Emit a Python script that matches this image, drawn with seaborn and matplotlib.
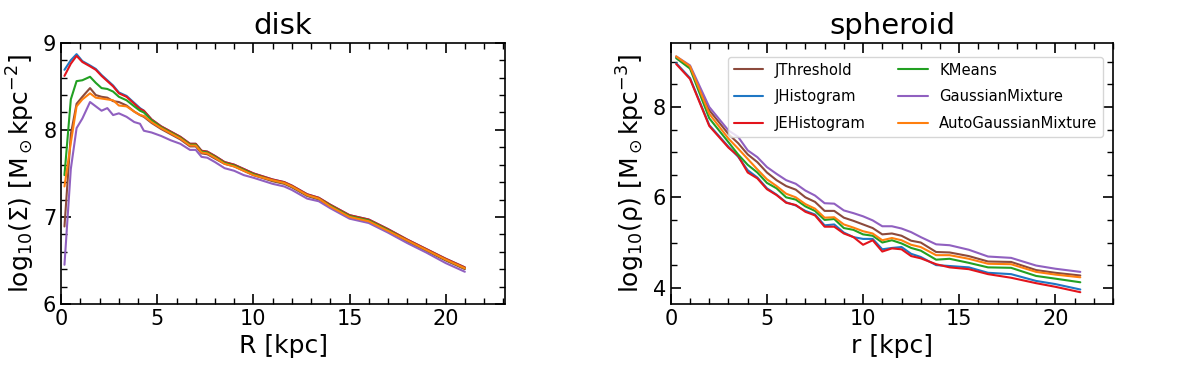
import numpy as np
import matplotlib
matplotlib.use("Agg")
import matplotlib.pyplot as plt
import pandas as pd
import seaborn as sns
from matplotlib.ticker import MultipleLocator

methods = ["JThreshold", "JHistogram", "JEHistogram", "KMeans", "GaussianMixture", "AutoGaussianMixture"]
colors = ["#8c4a3c", "#1f77c4", "#e3141c", "#22a022", "#9060c0", "#ff7f0e"]

# disk: surface density profile
R = [0.17, 0.5, 0.8, 1.1, 1.5, 1.8, 2.1, 2.4, 2.7, 3.0, 3.4, 3.8, 4.1, 4.3, 4.7, 5.2, 5.7, 6.2, 6.7, 7.0,
     7.3, 7.6, 8.0, 8.5, 9.0, 9.5, 10.0, 11.0, 11.6, 12.0, 12.8, 13.4, 14.0, 15.0, 16.0, 17.0, 18.0, 19.0, 20.0, 21.0]
disk_jthr = [6.89, 7.95, 8.30, 8.38, 8.48, 8.40, 8.38, 8.37, 8.33, 8.32, 8.28, 8.21, 8.17, 8.15, 8.08, 8.01, 7.95, 7.89, 7.81, 7.81,
             7.73, 7.72, 7.67, 7.61, 7.58, 7.53, 7.48, 7.41, 7.38, 7.34, 7.24, 7.20, 7.12, 7.00, 6.95, 6.84, 6.72, 6.61, 6.50, 6.40]
disk_jhist = [8.69, 8.80, 8.87, 8.79, 8.74, 8.70, 8.63, 8.57, 8.51, 8.43, 8.39, 8.31, 8.25, 8.22, 8.12, 8.04, 7.98, 7.92, 7.84, 7.84,
              7.76, 7.75, 7.70, 7.63, 7.60, 7.55, 7.50, 7.43, 7.40, 7.36, 7.26, 7.22, 7.14, 7.02, 6.97, 6.86, 6.74, 6.63, 6.52, 6.42]
disk_jehist = [8.62, 8.76, 8.85, 8.78, 8.73, 8.69, 8.62, 8.56, 8.50, 8.42, 8.38, 8.30, 8.24, 8.22, 8.12, 8.04, 7.98, 7.92, 7.84, 7.84,
               7.76, 7.75, 7.70, 7.63, 7.60, 7.55, 7.50, 7.43, 7.40, 7.36, 7.26, 7.22, 7.14, 7.02, 6.97, 6.86, 6.74, 6.63, 6.52, 6.42]
disk_kmeans = [7.48, 8.35, 8.56, 8.57, 8.61, 8.54, 8.48, 8.47, 8.44, 8.38, 8.34, 8.27, 8.22, 8.20, 8.11, 8.03, 7.97, 7.91, 7.83, 7.83,
               7.75, 7.74, 7.69, 7.62, 7.59, 7.54, 7.49, 7.42, 7.39, 7.35, 7.25, 7.21, 7.13, 7.01, 6.96, 6.85, 6.73, 6.62, 6.51, 6.41]
disk_gm = [6.45, 7.55, 8.02, 8.13, 8.32, 8.27, 8.22, 8.25, 8.17, 8.19, 8.15, 8.09, 8.07, 7.99, 7.97, 7.93, 7.88, 7.84, 7.77, 7.77,
           7.69, 7.68, 7.63, 7.56, 7.53, 7.48, 7.45, 7.38, 7.35, 7.31, 7.21, 7.18, 7.10, 6.98, 6.93, 6.82, 6.70, 6.59, 6.47, 6.37]
disk_agm = [7.35, 7.85, 8.27, 8.35, 8.42, 8.37, 8.36, 8.35, 8.34, 8.28, 8.27, 8.21, 8.17, 8.16, 8.09, 8.02, 7.96, 7.90, 7.82, 7.82,
            7.74, 7.73, 7.68, 7.61, 7.58, 7.53, 7.48, 7.42, 7.39, 7.35, 7.25, 7.21, 7.12, 7.00, 6.95, 6.84, 6.73, 6.62, 6.51, 6.41]

# spheroid: volume density profile
r = [0.28, 1.0, 2.0, 3.0, 3.5, 4.0, 4.5, 5.0, 5.5, 6.0, 6.5, 7.0, 7.5, 8.0, 8.5, 9.0, 9.5, 10.0,
     10.5, 11.0, 11.5, 12.0, 12.5, 13.0, 13.8, 14.5, 15.5, 16.5, 17.7, 19.0, 20.0, 21.3]
sph_jthr = [9.10, 8.88, 7.93, 7.40, 7.20, 6.95, 6.78, 6.55, 6.38, 6.25, 6.17, 6.00, 5.90, 5.70, 5.70, 5.55, 5.48, 5.40,
            5.32, 5.18, 5.20, 5.15, 5.04, 5.00, 4.79, 4.78, 4.70, 4.58, 4.57, 4.39, 4.33, 4.27]
sph_jhist = [8.97, 8.64, 7.60, 7.12, 6.90, 6.60, 6.44, 6.20, 6.06, 5.89, 5.82, 5.70, 5.62, 5.38, 5.40, 5.22, 5.12, 5.08,
             5.08, 4.85, 4.88, 4.90, 4.75, 4.68, 4.50, 4.48, 4.45, 4.33, 4.30, 4.15, 4.08, 3.96]
sph_jehist = [8.95, 8.62, 7.58, 7.10, 6.92, 6.55, 6.42, 6.18, 6.05, 5.88, 5.83, 5.68, 5.60, 5.35, 5.35, 5.20, 5.12, 4.95,
              5.05, 4.80, 4.87, 4.85, 4.70, 4.65, 4.52, 4.45, 4.41, 4.30, 4.22, 4.10, 4.02, 3.90]
sph_kmeans = [9.08, 8.85, 7.75, 7.22, 6.95, 6.72, 6.55, 6.32, 6.20, 6.00, 5.95, 5.80, 5.70, 5.50, 5.52, 5.32, 5.28, 5.18,
              5.15, 5.00, 5.05, 4.98, 4.88, 4.82, 4.62, 4.64, 4.55, 4.45, 4.44, 4.26, 4.20, 4.12]
sph_gm = [9.12, 8.92, 8.00, 7.48, 7.34, 7.04, 6.89, 6.67, 6.52, 6.38, 6.30, 6.15, 6.04, 5.87, 5.86, 5.71, 5.65, 5.58,
          5.49, 5.36, 5.36, 5.31, 5.23, 5.12, 4.96, 4.94, 4.84, 4.69, 4.66, 4.49, 4.42, 4.35]
sph_agm = [9.12, 8.90, 7.85, 7.30, 7.08, 6.85, 6.62, 6.40, 6.25, 6.08, 6.00, 5.85, 5.75, 5.55, 5.56, 5.40, 5.33, 5.25,
           5.20, 5.05, 5.10, 5.05, 4.95, 4.90, 4.72, 4.72, 4.64, 4.53, 4.52, 4.35, 4.29, 4.23]

disk_vals = [disk_jthr, disk_jhist, disk_jehist, disk_kmeans, disk_gm, disk_agm]
sph_vals = [sph_jthr, sph_jhist, sph_jehist, sph_kmeans, sph_gm, sph_agm]

df_disk = pd.concat([pd.DataFrame({"x": R, "y": v, "method": m}) for m, v in zip(methods, disk_vals)])
df_sph = pd.concat([pd.DataFrame({"x": r, "y": v, "method": m}) for m, v in zip(methods, sph_vals)])

sns.set_style("white")
plt.rcParams['font.family'] = ['DejaVu Sans']
plt.rcParams['text.color'] = 'black'
plt.rcParams['axes.labelcolor'] = 'black'
plt.rcParams['xtick.color'] = 'black'
plt.rcParams['ytick.color'] = 'black'
palette = dict(zip(methods, colors))

fig = plt.figure(figsize=(12, 3.79), dpi=100)
ax1 = fig.add_axes([0.051, 0.198, 0.370, 0.689])
ax2 = fig.add_axes([0.559, 0.198, 0.3685, 0.689])

sns.lineplot(data=df_disk, x="x", y="y", hue="method", palette=palette, ax=ax1, lw=1.5, legend=False, sort=False)
sns.lineplot(data=df_sph, x="x", y="y", hue="method", palette=palette, ax=ax2, lw=1.5, sort=False)

ax1.set_xlim(0, 23.1)
ax1.set_ylim(6, 9)
ax1.yaxis.set_major_locator(MultipleLocator(1))
ax1.yaxis.set_minor_locator(MultipleLocator(0.2))
ax1.set_title("disk", fontsize=21)
ax1.set_xlabel("R [kpc]", fontsize=18)
ax1.set_ylabel("log$_{10}$(Σ) [M$_\\odot$kpc$^{-2}$]", fontsize=18)

ax2.set_xlim(0, 23.0)
ax2.set_ylim(3.64, 9.42)
ax2.yaxis.set_major_locator(MultipleLocator(2))
ax2.yaxis.set_minor_locator(MultipleLocator(0.5))
ax2.set_title("spheroid", fontsize=21)
ax2.set_xlabel("r [kpc]", fontsize=18)
ax2.set_ylabel("log$_{10}$(ρ) [M$_\\odot$kpc$^{-3}$]", fontsize=18)

for ax in (ax1, ax2):
    ax.xaxis.set_major_locator(MultipleLocator(5))
    ax.xaxis.set_minor_locator(MultipleLocator(1))
    ax.tick_params(which="both", direction="in", bottom=True, left=True, top=True, right=True,
                   labelsize=15, color="black", labelcolor="black")
    ax.tick_params(which="major", length=7, width=1.2)
    ax.tick_params(which="minor", length=4, width=1)
    for s in ax.spines.values():
        s.set_color("black")
        s.set_linewidth(1.2)

leg = ax2.legend(title=None, ncol=2, fontsize=10.6, loc="upper right", frameon=True,
                 columnspacing=2.2, handlelength=2.0, labelspacing=0.8,
                 bbox_to_anchor=(0.995, 0.975))
for t in leg.get_texts():
    t.set_color("black")

plt.savefig("out.png", dpi=100)
